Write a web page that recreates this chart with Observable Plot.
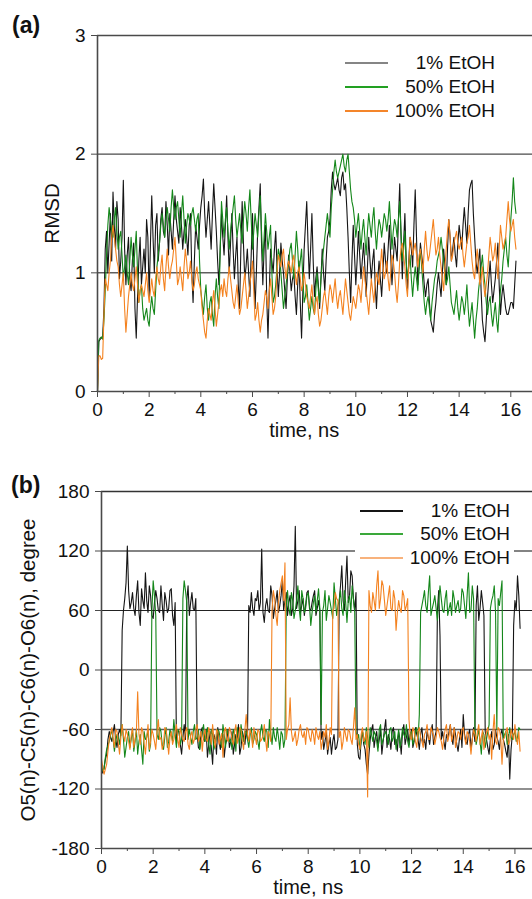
<!DOCTYPE html>
<html>
<head>
<meta charset="utf-8">
<script src="https://cdn.jsdelivr.net/npm/d3@7"></script>
<script src="https://cdn.jsdelivr.net/npm/@observablehq/plot@0.6"></script>
<style>
  body { margin: 0; background: #fff; font-family: "Liberation Sans", Arial, sans-serif; }
  #wrap { position: relative; width: 532px; height: 899px; overflow: hidden; background: #fff; }
  .panel { position: absolute; left: 0; }
  .tag { position: absolute; font-weight: bold; font-size: 23px; line-height: 23px; color: #111; }
  .lg-line { position: absolute; height: 1.5px; }
  .lg-text { position: absolute; font-size: 19px; line-height: 24px; color: #111; text-align: right; white-space: nowrap; }
  .lg-box { position: absolute; background: #fff; }
</style>
</head>
<body>
<div id="wrap"></div>
<script>
// ---------- data ----------
const series = ["1% EtOH", "50% EtOH", "100% EtOH"];
const timeStep = 0.1; // main samples at t = 0, 0.1, ... ; "Half" samples at t = 0.05, 0.15, ...

// (a) RMSD
const rmsd1 = [
  0, 0.44, 0.46, 1.2, 1.0, 1.5, 1.68, 1.2, 1.45, 1.1,
  1.78, 0.9, 1.3, 0.85, 1.25, 0.45, 1.1, 0.9, 1.2, 1.45,
  0.8, 1.65, 1.0, 1.5, 1.25, 1.55, 1.3, 1.4, 1.5, 1.2,
  1.65, 1.35, 1.55, 1.2, 1.45, 1.15, 1.5, 0.75, 1.4, 1.2,
  1.55, 1.79, 1.3, 1.6, 1.2, 1.75, 1.35, 0.9, 1.5, 1.15,
  1.65, 1.0, 1.5, 0.95, 1.3, 0.7, 1.6, 0.95, 1.2, 0.8,
  1.5, 0.7, 1.35, 1.75, 0.9, 1.4, 0.45, 1.2, 1.0, 1.35,
  0.8, 1.25, 1.0, 0.7, 1.15, 0.85, 1.0, 0.65, 1.1, 0.45,
  1.2, 1.6, 0.95, 1.5, 0.8, 1.05, 0.7, 1.2, 0.85, 1.3,
  1.45, 1.85, 1.7, 1.8, 1.65, 1.85, 1.75, 1.3, 0.75, 1.4,
  0.9, 1.35, 0.95, 1.25, 0.8, 1.3, 0.95, 1.2, 0.7, 1.1,
  0.8, 1.25, 1.0, 1.4, 0.9, 1.3, 1.1, 1.75, 0.95, 1.5,
  0.85, 1.3, 1.05, 1.7, 0.9, 1.25, 1.05, 0.8, 0.95, 0.6,
  0.5, 0.75, 1.0, 0.8, 1.2, 0.9, 1.45, 1.1, 1.3, 1.05,
  1.4, 1.2, 1.55, 1.25, 1.7, 1.78, 1.3, 1.0, 1.2, 0.6,
  0.42, 0.8, 1.1, 0.75, 0.95, 1.25, 0.65, 0.9, 0.7, 0.65,
  0.75, 0.7, 1.1
];
const rmsd1Half = [
  0.42, 0.45, 0.7, 1.35, 1.25, 1.1, 1.4, 1.6, 0.95, 1.3,
  1.2, 1.15, 0.95, 1.1, 0.7, 0.8, 1.3, 1.05, 1.0, 1.3,
  1.25, 1.3, 1.4, 1.1, 1.45, 1.35, 1.6, 1.15, 1.35, 1.45,
  1.45, 1.25, 1.4, 1.35, 1.3, 1.4, 1.0, 1.1, 1.3, 1.4,
  1.65, 1.5, 1.45, 1.4, 1.5, 1.55, 1.1, 1.2, 1.3, 1.4,
  1.3, 1.25, 1.2, 1.15, 0.9, 1.2, 1.25, 1.05, 1.0, 1.15,
  1.05, 1.0, 1.55, 1.25, 1.2, 0.8, 0.85, 1.1, 1.2, 1.05,
  1.0, 1.1, 0.85, 0.95, 1.0, 0.95, 0.8, 0.9, 0.75, 0.85,
  1.4, 1.25, 1.2, 1.1, 0.95, 0.9, 0.95, 1.0, 1.1, 1.35,
  1.7, 1.75, 1.75, 1.7, 1.8, 1.7, 1.55, 1.0, 1.1, 1.15,
  1.1, 1.15, 1.1, 1.05, 1.05, 1.1, 1.1, 0.9, 0.95, 0.95,
  1.0, 1.1, 1.2, 1.15, 1.1, 1.2, 1.45, 1.3, 1.25, 1.1,
  1.1, 1.2, 1.4, 1.3, 1.05, 1.15, 0.9, 0.9, 0.75, 0.55,
  0.65, 0.9, 0.9, 1.0, 1.05, 1.2, 1.3, 1.2, 1.15, 1.25,
  1.3, 1.4, 1.4, 1.5, 1.75, 1.5, 1.1, 1.1, 0.85, 0.5,
  0.6, 0.95, 0.9, 0.85, 1.1, 0.9, 0.8, 0.8, 0.65, 0.7,
  0.75, 0.9
];
const rmsd50 = [
  0, 0.45, 0.44, 0.85, 1.4, 1.45, 1.3, 1.55, 1.2, 1.35,
  0.95, 1.15, 0.9, 1.3, 1.05, 1.35, 0.75, 0.9, 0.6, 0.7,
  0.55, 0.8, 0.65, 1.05, 1.25, 1.5, 1.3, 1.55, 1.35, 1.7,
  1.45, 1.6, 1.3, 1.65, 1.25, 1.5, 1.4, 1.55, 1.35, 1.5,
  0.85, 0.65, 0.9, 0.6, 0.8, 0.55, 0.95, 0.7, 1.6, 1.3,
  1.55, 1.2, 1.45, 1.65, 1.3, 1.5, 1.25, 1.6, 1.35, 1.7,
  1.2, 1.5, 1.3, 1.65, 1.1, 1.5, 1.2, 1.4, 0.75, 0.9,
  1.2, 1.0, 0.7, 0.9, 1.1, 1.25, 0.95, 1.35, 1.0, 1.2,
  0.75, 0.9, 0.6, 0.8, 0.65, 1.0, 0.75, 1.1, 1.3, 1.5,
  1.3, 1.7, 1.95, 1.8, 1.9, 2.0, 1.85, 2.0, 1.7, 1.55,
  1.3, 1.5, 1.2, 1.45, 1.15, 1.5, 1.3, 1.55, 1.2, 1.45,
  1.3, 1.5, 1.35, 1.6, 1.2, 1.45, 1.3, 1.6, 1.1, 1.35,
  0.95, 1.15, 0.8, 1.05, 0.85, 1.2, 0.9, 0.65, 0.8, 0.6,
  0.85, 1.0, 1.15, 1.3, 1.1, 0.9, 1.05, 0.75, 0.65, 0.85,
  0.6, 0.8, 0.65, 0.9, 0.55, 0.75, 0.45, 0.7, 0.95, 1.15,
  0.9, 0.65, 0.8, 0.55, 0.75, 0.5, 0.85, 1.1, 1.3, 1.05,
  1.45, 1.8, 1.5
];
const rmsd50Half = [
  0.43, 0.46, 0.6, 1.15, 1.55, 1.35, 1.45, 1.35, 1.3, 1.15,
  1.05, 1.0, 1.1, 1.15, 1.2, 1.0, 0.85, 0.7, 0.65, 0.6,
  0.7, 0.7, 0.85, 1.15, 1.4, 1.4, 1.45, 1.45, 1.55, 1.55,
  1.55, 1.45, 1.5, 1.45, 1.4, 1.45, 1.5, 1.45, 1.45, 1.1,
  0.75, 0.8, 0.7, 0.75, 0.65, 0.8, 0.8, 1.2, 1.45, 1.45,
  1.35, 1.35, 1.55, 1.45, 1.4, 1.35, 1.45, 1.5, 1.55, 1.45,
  1.35, 1.4, 1.5, 1.35, 1.3, 1.35, 1.3, 1.0, 0.8, 1.05,
  1.15, 0.85, 0.8, 1.0, 1.2, 1.1, 1.15, 1.2, 1.1, 0.95,
  0.8, 0.75, 0.7, 0.7, 0.85, 0.85, 0.95, 1.2, 1.4, 1.4,
  1.55, 1.85, 1.85, 1.85, 1.95, 1.9, 1.95, 1.85, 1.6, 1.45,
  1.4, 1.35, 1.35, 1.3, 1.35, 1.4, 1.45, 1.35, 1.35, 1.4,
  1.4, 1.45, 1.45, 1.4, 1.35, 1.4, 1.45, 1.35, 1.2, 1.1,
  1.05, 0.95, 0.95, 0.95, 1.05, 1.05, 0.75, 0.75, 0.7, 0.75,
  0.95, 1.1, 1.2, 1.2, 1.0, 0.95, 0.9, 0.7, 0.75, 0.7,
  0.7, 0.75, 0.75, 0.7, 0.65, 0.6, 0.6, 0.85, 1.05, 1.0,
  0.75, 0.75, 0.65, 0.65, 0.6, 0.7, 0.95, 1.2, 1.15, 1.25,
  1.6, 1.6
];
const rmsd100 = [
  0, 0.3, 0.28, 0.95, 0.85, 1.1, 1.4, 1.2, 1.05, 0.8,
  1.0, 0.5, 0.8, 1.0, 0.85, 1.05, 0.75, 0.9, 0.8, 1.0,
  0.75, 0.95, 0.8, 1.05, 0.9, 1.15, 0.85, 1.2, 0.95, 1.1,
  1.3, 0.9, 1.05, 0.85, 1.2, 0.95, 1.1, 0.85, 1.0, 0.95,
  0.85, 0.6, 0.45, 0.7, 0.6, 0.85, 0.55, 0.75, 0.9, 0.95,
  0.8, 1.05, 0.85, 0.7, 0.9, 0.65, 0.8, 1.0, 0.7, 0.9,
  1.1, 0.6, 0.75, 0.5, 0.65, 0.85, 0.7, 0.95, 0.65, 0.8,
  1.15, 1.05, 1.2, 0.95, 1.1, 1.0, 1.15, 0.9, 1.05, 0.85,
  1.0, 0.8, 0.7, 0.9, 0.65, 0.8, 0.55, 0.7, 0.85, 0.65,
  0.9, 0.75, 0.95, 0.7, 0.85, 0.65, 0.95, 0.75, 0.6, 0.8,
  0.7, 0.9, 0.75, 1.05, 0.85, 0.65, 0.95, 0.75, 1.0, 0.9,
  1.2, 0.95, 1.1, 0.85, 1.15, 1.0, 0.75, 1.1, 1.25, 1.05,
  0.8, 1.3, 1.15, 1.25, 1.05, 1.2, 1.0, 1.35, 1.1, 1.25,
  1.45, 1.15, 1.3, 1.05, 0.85, 1.2, 1.45, 1.1, 1.25, 1.35,
  1.2, 1.3, 1.05, 1.25, 1.4, 1.1, 0.95, 1.2, 0.9, 1.05,
  0.8, 1.0, 1.3, 1.1, 1.25, 0.95, 1.4, 1.2, 1.3, 1.6,
  1.35, 1.45, 1.2
];
const rmsd100Half = [
  0.3, 0.27, 0.65, 0.9, 1.0, 1.3, 1.3, 1.1, 0.9, 0.9,
  0.7, 0.65, 0.9, 0.9, 0.95, 0.9, 0.85, 0.85, 0.9, 0.85,
  0.85, 0.85, 0.95, 0.95, 1.05, 0.95, 1.05, 1.05, 1.05, 1.2,
  1.1, 0.95, 0.95, 1.05, 1.1, 1.0, 0.95, 0.9, 1.05, 0.9,
  0.7, 0.5, 0.6, 0.65, 0.75, 0.7, 0.65, 0.85, 0.8, 0.85,
  0.95, 0.95, 0.75, 0.8, 0.75, 0.7, 0.9, 0.85, 0.8, 1.0,
  0.85, 0.65, 0.6, 0.6, 0.75, 0.8, 0.85, 0.8, 0.7, 1.0,
  1.1, 1.15, 1.05, 1.05, 1.05, 1.1, 1.0, 1.0, 0.95, 0.9,
  0.9, 0.75, 0.8, 0.75, 0.75, 0.65, 0.6, 0.8, 0.75, 0.8,
  0.85, 0.85, 0.8, 0.8, 0.75, 0.8, 0.85, 0.65, 0.7, 0.75,
  0.8, 0.85, 0.9, 0.95, 0.75, 0.8, 0.85, 0.9, 0.95, 1.05,
  1.05, 1.0, 0.95, 1.0, 1.1, 0.85, 0.9, 1.2, 1.15, 0.9,
  1.05, 1.25, 1.2, 1.15, 1.15, 1.1, 1.2, 1.2, 1.15, 1.35,
  1.3, 1.2, 1.15, 0.95, 1.05, 1.35, 1.3, 1.15, 1.3, 1.25,
  1.25, 1.15, 1.15, 1.3, 1.25, 1.0, 1.1, 1.05, 0.95, 0.9,
  0.9, 1.15, 1.2, 1.15, 1.1, 1.2, 1.3, 1.25, 1.45, 1.45,
  1.4, 1.3
];

// (b) O5-C5-C6-O6 dihedral, degree
const dih1 = [
  -100, -98, -85, -62, -72, -55, -78, -60, 40, 72,
  125, 62, 78, 55, 90, 45, 70, 98, 58, 75,
  52, 80, 60, 85, 50, 70, 62, 82, 45, -75,
  -62, -85, -55, 70, 55, 78, 60, -65, -80, -58,
  -72, -88, -62, -95, -70, -58, -80, -65, -75, -60,
  -72, -85, -65, -55, -78, -68, -60, 65, 78, 55,
  70, 60, 122, 48, 72, 58, 75, 62, 80, 65,
  90, 70, 55, 75, 62, 145, 70, 58, 72, 65,
  80, 60, 75, 55, 70, -70, -80, -62, -75, -85,
  -65, -78, 70, 105, 60, 115, 75, 95, 60, -75,
  -90, -62, -80, -105, -70, -55, -68, -78, -60, -72,
  -50, -65, -80, -58, -70, -62, -85, -55, -68, -75,
  -60, -72, -65, -80, -58, -70, -62, -75, -55, -68,
  60, 35, -62, -80, -70, -55, -75, -65, -82, -60,
  -45, -72, -65, -80, -58, 65, 50, 80, 55, -70,
  -85, -62, -75, -68, -80, -60, -75, -88, -110, -65,
  70, 95, 42
];
const dih1Half = [
  -104, -90, -70, -68, -62, -70, -65, -66, 60, 88,
  80, 68, 62, 75, 58, 82, 62, 70, 85, 55,
  68, 72, 58, 66, 78, 58, 80, 55, 68, -62,
  -75, -68, -70, 85, 68, 62, 72, -78, -62, -70,
  -60, -75, -78, -65, -85, -72, -68, -88, -70, -78,
  -62, -75, -70, -85, -62, -75, -70, 58, 62, 72,
  80, 68, 58, 65, 60, 85, 52, 70, 58, 75,
  60, 78, 68, 55, 85, 62, 80, 65, 55, 78,
  62, 68, 80, 62, 60, -62, -72, -85, -68, -72,
  -80, -70, 85, 70, 90, 68, 100, 72, 78, -88,
  -70, -75, -95, -85, -60, -78, -62, -70, -85, -60,
  -78, -70, -62, -75, -82, -70, -62, -75, -60, -65,
  -78, -58, -70, -65, -75, -80, -68, -62, -75, -62,
  80, -70, -72, -65, -62, -68, -58, -75, -70, -78,
  -65, -75, -60, -70, -72, 85, 62, 68, -62, -78,
  -70, -80, -60, -72, -65, -70, -82, -65, -80, 45,
  60, 75
];
const dih50 = [
  -95, -100, -80, -72, -60, -82, -65, -75, -55, -88,
  -68, -78, -60, -72, -85, -65, -95, -70, -60, -75,
  90, 55, -70, -62, -80, -58, -72, -65, -50, -78,
  -62, -70, 90, 68, -60, -75, -55, -68, -80, -62,
  -72, -58, -85, -65, -75, -60, -70, -55, -78, -65,
  -70, -60, -82, -68, -55, -72, -62, -78, -58, -70,
  -65, -80, -55, -72, -62, -50, -75, -68, -58, -80,
  -65, -70, 80, 55, 70, 60, 85, 50, 72, 62,
  78, 45, 68, 58, 82, -55, 65, 50, 75, 60,
  88, 55, 70, 62, 80, 48, 75, 85, 58, -70,
  -80, -62, -75, -68, -58, -72, -65, -82, -55, -70,
  -62, -75, -58, -68, -80, -60, -72, -65, -55, -78,
  -62, -70, -58, -45, 65, 80, 58, 95, 62, 75,
  50, 85, 60, 72, 55, 68, 80, 58, 70, 62,
  78, 52, 98, 60, 72, -75, -60, -85, -65, -70,
  -55, 70, 85, -60, 65, 90, -65, -75, -58, -70,
  -62, -68, -60
];
const dih50Half = [
  -102, -88, -76, -66, -70, -72, -68, -62, -70, -78,
  -62, -70, -82, -60, -72, -80, -62, -68, -82, 60,
  75, -65, -58, -75, -68, -78, -60, -72, -65, -60,
  -75, 72, 80, -70, -68, -62, -70, -60, -72, -55,
  -65, -75, -60, -80, -68, -62, -78, -65, -60, -72,
  -80, -65, -58, -75, -65, -62, -70, -66, -75, -62,
  -72, -62, -68, -60, -78, -65, -58, -72, -68, -62,
  -78, 65, 62, 78, 52, 70, 62, 80, 58, 75,
  65, 58, 75, 70, 62, 58, 80, 62, 68, 52,
  72, 65, 80, 55, 68, 70, 58, 72, -62, -65,
  -72, -68, -58, -78, -65, -62, -72, -60, -75, -65,
  -68, -60, -72, -62, -70, -78, -58, -68, -72, -65,
  -75, -62, -70, 58, 72, 65, 78, 55, 68, 62,
  70, 72, 58, 80, 62, 55, 72, 65, 58, 82,
  65, 75, 58, 85, -60, -68, -72, -62, -78, -62,
  62, 75, 58, 72, 78, -70, -62, -70, -68, -65,
  -72, -58
];
const dih100 = [
  -90, -105, -95, -70, -58, -78, -62, -85, -55, -72,
  -65, -80, -58, -70, -22, -75, -62, -85, -55, -72,
  -65, -80, -50, -68, -75, -60, -85, -62, -70, -55,
  -78, -65, -72, -58, -80, -62, -70, -55, -68, -82,
  -60, -72, -65, -55, -78, -62, -70, -88, -58, -72,
  -62, -75, -55, -68, -60, -80, -45, -72, -65, -58,
  -75, -62, -70, -55, -82, -65, 60, 72, 45, 80,
  95, 108, -60, -28, -72, -62, -70, -55, -68, -75,
  -60, -72, -65, -58, -70, -80, -62, -55, -72, -65,
  62, 72, -68, -80, -58, -72, -62, -75, -38, -65,
  -80, -58, -70, -128, 65, 78, 60, 100, 72, 85,
  55, 75, 62, 80, 40, 70, 58, 75, 65, -50,
  -70, -62, -78, -58, -72, -65, -55, -70, -62, -75,
  -58, -68, -80, -60, -72, -55, -65, -78, -62, -70,
  -58, -75, -65, -85, -60, -72, -55, -68, -80, -62,
  -70, -90, -45, -75, -60, -95, -68, -58, -72, -65,
  -55, -75, -82
];
const dih100Half = [
  -98, -100, -82, -64, -70, -60, -74, -68, -66, -60,
  -72, -66, -78, -62, -65, -58, -74, -68, -80, -60,
  -72, -62, -70, -80, -58, -72, -68, -75, -62, -70,
  -58, -70, -62, -75, -66, -74, -60, -72, -62, -66,
  -70, -58, -75, -68, -60, -75, -64, -62, -70, -58,
  -70, -62, -74, -58, -72, -60, -65, -60, -78, -68,
  -60, -72, -66, -70, -62, -72, 80, 55, 68, 88,
  70, -70, -55, -62, -68, -76, -60, -65, -62, -58,
  -68, -60, -75, -66, -62, -72, -68, -80, -58, 60,
  78, 70, -62, -72, -66, -60, -70, -58, -70, -75,
  -65, -72, -62, 80, 58, 70, 85, 62, 90, 70,
  65, 85, 60, 72, 58, 62, 80, 60, 72, -68,
  -58, -72, -62, -68, -78, -62, -70, -58, -66, -68,
  -62, -72, -68, -55, -66, -72, -58, -70, -64, -60,
  -68, -62, -72, -70, -65, -62, -75, -60, -70, -58,
  -65, -62, -72, -58, -68, -70, -62, -75, -60, -70,
  -68, -62
];

const rmsdTicks = [0, 1, 2, 3];
const dihTicks = [-180, -120, -60, 0, 60, 120, 180];
const timeTicks = [0, 2, 4, 6, 8, 10, 12, 14, 16];
const timeMinor = [1, 3, 5, 7, 9, 11, 13, 15];

// ---------- build ----------
const lineColors = ["#151515", "#14871a", "#f4821f"];
const FONT = '"Liberation Sans", Arial, Helvetica, sans-serif';

function merge(main, half, name) {
  const out = [];
  main.forEach((v, i) => {
    out.push({ t: +(i * timeStep).toFixed(3), v, s: name });
    if (i < half.length) out.push({ t: +(i * timeStep + timeStep / 2).toFixed(3), v: half[i], s: name });
  });
  return out;
}
const dataA = [
  ...merge(rmsd1, rmsd1Half, series[0]),
  ...merge(rmsd50, rmsd50Half, series[1]),
  ...merge(rmsd100, rmsd100Half, series[2])
];
const dataB = [
  ...merge(dih1, dih1Half, series[0]),
  ...merge(dih50, dih50Half, series[1]),
  ...merge(dih100, dih100Half, series[2])
];

const wrap = document.getElementById("wrap");

const plotA = Plot.plot({
  width: 532, height: 450,
  marginLeft: 97, marginRight: 0, marginTop: 35, marginBottom: 59,
  style: { fontFamily: FONT, fontSize: "19px", color: "#111", background: "transparent", overflow: "visible" },
  x: { domain: [0, 16.84] },
  y: { domain: [0, 3] },
  color: { domain: series, range: lineColors },
  marks: [
    Plot.ruleY([1], { stroke: "#111", strokeWidth: 1 }),
    Plot.ruleY([2], { stroke: "#4a4a4a", strokeWidth: 1.3 }),
    Plot.ruleY([3], { stroke: "#4a4a4a", strokeWidth: 1.6 }),
    Plot.line(dataA, { x: "t", y: "v", z: "s", stroke: "s", strokeWidth: 1.1 }),
    Plot.ruleX([0], { stroke: "#4a4a4a", strokeWidth: 1.6 }),
    Plot.ruleY([0], { stroke: "#4a4a4a", strokeWidth: 1.6 }),
    Plot.axisY({ ticks: rmsdTicks, tickSize: 6, tickPadding: 6, fontSize: 19, label: null, stroke: "#4a4a4a", tickFormat: d => String(d) }),
    Plot.axisX({ ticks: timeTicks, tickSize: 6, tickPadding: 5, fontSize: 19, label: null, stroke: "#4a4a4a", tickFormat: d => String(d) }),
    Plot.axisX({ ticks: timeMinor, tickSize: 3, text: null, label: null, stroke: "#4a4a4a" }),
    Plot.text(["time, ns"], { x: 8, text: d => d, frameAnchor: "bottom", dy: 45, fontSize: 20 }),
    Plot.text(["RMSD"], { text: d => d, frameAnchor: "left", textAnchor: "middle", dx: -45, rotate: -90, fontSize: 20.5 })
  ]
});

const plotB = Plot.plot({
  width: 532, height: 449,
  marginLeft: 101, marginRight: 0, marginTop: 41, marginBottom: 51,
  style: { fontFamily: FONT, fontSize: "19px", color: "#111", background: "transparent", overflow: "visible" },
  x: { domain: [0, 16.68] },
  y: { domain: [-180, 180] },
  color: { domain: series, range: lineColors },
  marks: [
    Plot.ruleY([60, 0, -120], { stroke: "#222", strokeWidth: 1.1 }),
    Plot.ruleY([120, -60], { stroke: "#5a5a5a", strokeWidth: 1.3 }),
    Plot.ruleY([180], { stroke: "#333", strokeWidth: 1.6 }),
    Plot.line(dataB, { x: "t", y: "v", z: "s", stroke: "s", strokeWidth: 1.1 }),
    Plot.ruleX([0], { stroke: "#4a4a4a", strokeWidth: 1.6 }),
    Plot.ruleY([-180], { stroke: "#4a4a4a", strokeWidth: 1.6 }),
    Plot.axisY({ ticks: dihTicks, tickSize: 6, tickPadding: 6, fontSize: 19, label: null, stroke: "#4a4a4a", tickFormat: d => String(d) }),
    Plot.axisX({ ticks: timeTicks, tickSize: 6, tickPadding: 5, fontSize: 19, label: null, stroke: "#4a4a4a", tickFormat: d => String(d) }),
    Plot.axisX({ ticks: timeMinor, tickSize: 3, text: null, label: null, stroke: "#4a4a4a" }),
    Plot.text(["time, ns"], { x: 8, text: d => d, frameAnchor: "bottom", dy: 45, fontSize: 20 }),
    Plot.text(["O5(n)-C5(n)-C6(n)-O6(n), degree"], { text: d => d, frameAnchor: "left", textAnchor: "middle", dx: -73, rotate: -90, fontSize: 20.5 })
  ]
});

const pa = document.createElement("div"); pa.className = "panel"; pa.style.top = "0px"; pa.appendChild(plotA);
const pb = document.createElement("div"); pb.className = "panel"; pb.style.top = "450px"; pb.appendChild(plotB);
wrap.appendChild(pa); wrap.appendChild(pb);

function tag(text, left, top) {
  const d = document.createElement("div");
  d.className = "tag"; d.textContent = text;
  d.style.left = left + "px"; d.style.top = top + "px";
  wrap.appendChild(d);
}
tag("(a)", 12, 14);
tag("(b)", 11, 474);

function legend(opt) {
  if (opt.box) {
    const b = document.createElement("div");
    b.className = "lg-box";
    Object.assign(b.style, { left: opt.box[0] + "px", top: opt.box[1] + "px", width: opt.box[2] + "px", height: opt.box[3] + "px" });
    wrap.appendChild(b);
  }
  series.forEach((name, i) => {
    const y = opt.rows[i];
    const l = document.createElement("div");
    l.className = "lg-line";
    Object.assign(l.style, { left: opt.x1 + "px", width: (opt.x2 - opt.x1) + "px", top: (y - 0.75) + "px", background: opt.colors[i] });
    wrap.appendChild(l);
    const t = document.createElement("div");
    t.className = "lg-text"; t.textContent = name;
    Object.assign(t.style, { right: (532 - opt.right) + "px", top: (y - 12) + "px" });
    wrap.appendChild(t);
  });
}
legend({ x1: 345, x2: 388, right: 495, rows: [63, 87, 111], colors: ["#858585", "#22a022", "#f4852a"] });
legend({ x1: 360, x2: 403, right: 510, rows: [511, 534, 558], colors: ["#151515", "#3aa83a", "#f8b27c"], box: [355, 497, 159, 70] });
</script>
</body>
</html>
